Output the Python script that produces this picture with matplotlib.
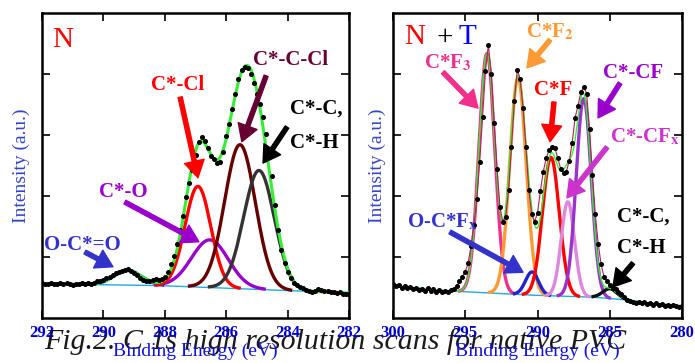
import numpy as np
import matplotlib
matplotlib.use("Agg")
import matplotlib.pyplot as plt

plt.rcParams['font.family'] = ['Liberation Serif', 'DejaVu Serif']
plt.rcParams['mathtext.fontset'] = 'stix'

# ---- panel N (native PVC) : measured points, binding energy (eV) / intensity (a.u.)
n_energy = [292.0, 291.9, 291.8, 291.7, 291.6, 291.5, 291.4, 291.3, 291.2, 291.1,
            291.0, 290.9, 290.8, 290.7, 290.6, 290.5, 290.4, 290.3, 290.2, 290.1,
            290.0, 289.9, 289.8, 289.7, 289.6, 289.5, 289.4, 289.3, 289.2, 289.1,
            289.0, 288.9, 288.8, 288.7, 288.6, 288.5, 288.4, 288.3, 288.2, 288.1,
            288.0, 287.9, 287.8, 287.7, 287.6, 287.5, 287.4, 287.3, 287.2, 287.1,
            287.0, 286.9, 286.8, 286.7, 286.6, 286.5, 286.4, 286.3, 286.2, 286.1,
            286.0, 285.9, 285.8, 285.7, 285.6, 285.5, 285.4, 285.3, 285.2, 285.1,
            285.0, 284.9, 284.8, 284.7, 284.6, 284.5, 284.4, 284.3, 284.2, 284.1,
            284.0, 283.9, 283.8, 283.7, 283.6, 283.5, 283.4, 283.3, 283.2, 283.1,
            283.0, 282.9, 282.8, 282.7, 282.6, 282.5, 282.4, 282.3, 282.2, 282.1, 282.0]
n_counts = [0.58, 0.56, 0.55, 0.57, 0.56, 0.55, 0.57, 0.56, 0.58, 0.55,
            0.54, 0.56, 0.55, 0.57, 0.55, 0.57, 0.56, 0.58, 0.60, 0.61,
            0.63, 0.66, 0.68, 0.70, 0.73, 0.75, 0.77, 0.79, 0.80, 0.77,
            0.74, 0.70, 0.65, 0.62, 0.60, 0.61, 0.63, 0.64, 0.63, 0.64,
            0.68, 0.76, 0.88, 1.02, 1.22, 1.44, 1.68, 1.98, 2.22, 2.42,
            2.68, 2.88, 2.96, 2.90, 2.78, 2.66, 2.60, 2.54, 2.55, 2.72,
            2.98, 3.18, 3.42, 3.68, 3.92, 4.06, 4.12, 4.10, 4.00, 3.86,
            3.68, 3.50, 3.30, 3.02, 2.70, 2.32, 1.86, 1.44, 1.12, 0.90,
            0.76, 0.66, 0.58, 0.54, 0.51, 0.49, 0.46, 0.44, 0.42, 0.45,
            0.47, 0.46, 0.44, 0.45, 0.43, 0.42, 0.41, 0.42, 0.40, 0.39, 0.40]

# fitted components (center, height above background, sigma)
n_names = ["O-C*=O", "C*-O", "C*-Cl", "C*-C-Cl", "C*-C"]
n_center = [289.2, 286.53, 286.92, 285.55, 284.93]
n_height = [0.24, 0.78, 1.65, 2.36, 1.95]
n_sigma = [0.45, 0.6, 0.42, 0.5, 0.5]
n_colors = ["#3333cc", "#9900cc", "#ff0000", "#660000", "#333333"]
n_bg_energy = [292, 288, 286, 284, 282]
n_bg = [0.56, 0.53, 0.49, 0.45, 0.41]

# ---- panel N + T
t_energy = [300.0, 299.8, 299.6, 299.4, 299.2, 299.0, 298.8, 298.6, 298.4, 298.2,
            298.0, 297.8, 297.6, 297.4, 297.2, 297.0, 296.8, 296.6, 296.4, 296.2,
            296.0, 295.8, 295.6, 295.4, 295.2, 295.0, 294.8, 294.6, 294.4, 294.2,
            294.0, 293.8, 293.6, 293.4, 293.2, 293.0, 292.8, 292.6, 292.4, 292.2,
            292.0, 291.8, 291.6, 291.4, 291.2, 291.0, 290.8, 290.6, 290.4, 290.2,
            290.0, 289.8, 289.6, 289.4, 289.2, 289.0, 288.8, 288.6, 288.4, 288.2,
            288.0, 287.8, 287.6, 287.4, 287.2, 287.0, 286.8, 286.6, 286.4, 286.2,
            286.0, 285.8, 285.6, 285.4, 285.2, 285.0, 284.8, 284.6, 284.4, 284.2,
            284.0, 283.8, 283.6, 283.4, 283.2, 283.0, 282.8, 282.6, 282.4, 282.2,
            282.0, 281.8, 281.6, 281.4, 281.2, 281.0, 280.8, 280.6, 280.4, 280.2, 280.0]
t_counts = [0.55, 0.52, 0.54, 0.50, 0.53, 0.49, 0.51, 0.47, 0.50, 0.46,
            0.48, 0.45, 0.49, 0.44, 0.47, 0.43, 0.46, 0.42, 0.45, 0.43,
            0.46, 0.48, 0.52, 0.60, 0.68, 0.76, 0.90, 1.18, 1.52, 1.95,
            2.55, 3.30, 4.05, 4.48, 4.00, 3.20, 2.45, 1.82, 1.58, 1.66,
            2.10, 2.80, 3.55, 4.07, 3.92, 3.45, 2.80, 2.10, 1.70, 1.58,
            1.72, 2.08, 2.40, 2.62, 2.75, 2.80, 2.79, 2.62, 2.45, 2.38,
            2.40, 2.58, 2.87, 3.28, 3.48, 3.70, 3.79, 3.68, 3.10, 2.35,
            1.70, 1.22, 0.88, 0.68, 0.60, 0.54, 0.50, 0.47, 0.43, 0.39,
            0.34, 0.30, 0.28, 0.27, 0.25, 0.27, 0.24, 0.26, 0.23, 0.25,
            0.22, 0.24, 0.21, 0.23, 0.20, 0.22, 0.19, 0.21, 0.20, 0.18, 0.20]

t_names = ["C*F3", "C*F2", "O-C*Fx", "C*F", "C*-CFx", "C*-CF", "C*-C"]
t_center = [293.5, 291.35, 290.38, 289.07, 287.9, 286.8, 284.98]
t_height = [3.92, 3.55, 0.38, 2.27, 1.55, 3.25, 0.16]
t_sigma = [0.55, 0.57, 0.45, 0.58, 0.46, 0.52, 0.5]
t_colors = ["#f0308c", "#ff9933", "#2222cc", "#ff0000", "#dd88dd", "#9933cc", "#111111"]
t_bg_energy = [300, 296, 294, 290, 286, 284, 282, 280]
t_bg = [0.53, 0.44, 0.42, 0.37, 0.34, 0.30, 0.24, 0.20]

W, H = 695, 363
fig = plt.figure(figsize=(W / 100, H / 100), dpi=100)
axL = fig.add_axes([42 / W, (H - 318) / H, 307 / W, 305 / H])
axR = fig.add_axes([393 / W, (H - 318) / H, 289 / W, 305 / H])


def draw_fit(ax, grid, bg_e, bg_v, centers, heights, sigmas, colors, env_lw, env_z):
    bg = np.interp(grid, bg_e[::-1], bg_v[::-1])
    total = bg.copy()
    ax.plot(grid, bg, color="#22aadd", lw=1.0, zorder=2)
    for c, h, s, col in zip(centers, heights, sigmas, colors):
        g = h * np.exp(-(grid - c) ** 2 / (2 * s ** 2))
        total += g
        m = g > 0.01
        ax.plot(grid[m], (bg + g)[m], color=col, lw=2.4, zorder=3)
    ax.plot(grid, total, color="#33ee33", lw=env_lw, zorder=env_z)


gL = np.linspace(282, 292, 800)
draw_fit(axL, gL, n_bg_energy, n_bg, n_center, n_height, n_sigma, n_colors, 2.2, 4)
axL.plot(n_energy, n_counts, "o", ms=2.6, color="black", zorder=5)

gR = np.linspace(280, 300, 1200)
draw_fit(axR, gR, t_bg_energy, t_bg, t_center, t_height, t_sigma, t_colors, 1.0, 4)
axR.plot(t_energy, t_counts, "-", lw=0.8, color="#aa2255", zorder=4)
axR.plot(t_energy, t_counts, "o", ms=2.6, color="black", zorder=5)

for ax, lim, ticks in [(axL, (292, 282), [292, 290, 288, 286, 284, 282]),
                       (axR, (300, 280), [300, 295, 290, 285, 280])]:
    ax.set_xlim(*lim)
    ax.set_ylim(0, 5)
    ax.set_xticks(ticks)
    ax.set_yticks([1, 2, 3, 4])
    ax.set_yticklabels([])
    ax.tick_params(direction="in", length=6, width=1.2, top=True, right=True,
                   labelsize=12, pad=5, labelcolor="#0000cc")
    for lbl in ax.get_xticklabels():
        lbl.set_fontweight("bold")
    for sp in ax.spines.values():
        sp.set_linewidth(1.8)
    ax.text(0.5, -0.108, "Binding Energy (eV)", transform=ax.transAxes, ha="center",
            va="center", fontsize=14, color="#1111dd")

axL.text(-0.066, 0.5, "Intensity (a.u.)", transform=axL.transAxes, rotation=90,
         ha="center", va="center", fontsize=14, color="#3344cc")
axR.text(-0.055, 0.5, "Intensity (a.u.)", transform=axR.transAxes, rotation=90,
         ha="center", va="center", fontsize=14, color="#3344cc")


def arrow(ax, tail, tip, color):
    ax.annotate("", xy=tip, xytext=tail,
                arrowprops=dict(arrowstyle="simple,head_length=1.0,head_width=1.2,tail_width=0.25",
                                color=color, shrinkA=0, shrinkB=0, mutation_scale=12),
                zorder=6)


bold = dict(fontsize=15, fontweight="bold", ha="center", va="center", zorder=7)

# left panel labels
axL.text(0.033, 0.91, "N", transform=axL.transAxes, fontsize=21, color="red", va="center")
axL.text(287.57, 3.82, "C*-Cl", color="red", **bold)
arrow(axL, (287.5, 3.62), (286.92, 2.30), "red")
axL.text(283.9, 4.23, "C*-C-Cl", color="#660033", **bold)
arrow(axL, (284.7, 3.97), (285.49, 2.89), "#660033")
axL.text(283.92, 3.44, "C*-C,", color="black", fontsize=15, fontweight="bold", ha="left", va="center")
axL.text(283.92, 2.87, "C*-H", color="black", fontsize=15, fontweight="bold", ha="left", va="center")
arrow(axL, (284.02, 3.13), (284.8, 2.54), "black")
axL.text(289.36, 2.07, "C*-O", color="#9900cc", **bold)
arrow(axL, (289.3, 1.90), (286.89, 1.25), "#9900cc")
axL.text(290.7, 1.2, "O-C*=O", color="#3333cc", **bold)
arrow(axL, (290.6, 1.08), (289.69, 0.84), "#3333cc")

# right panel labels
axR.text(0.04, 0.92, "N", transform=axR.transAxes, fontsize=21, color="red", va="center")
axR.text(0.152, 0.92, "+", transform=axR.transAxes, fontsize=21, color="black", va="center")
axR.text(0.225, 0.92, "T", transform=axR.transAxes, fontsize=21, color="blue", va="center")
axR.text(296.19, 4.18, r"C*F$_\mathbf{3}$", color="#f0308c", **bold)
arrow(axR, (296.54, 4.03), (294.12, 3.44), "#f0308c")
axR.text(289.13, 4.69, r"C*F$_\mathbf{2}$", color="#ff9933", **bold)
arrow(axR, (289.13, 4.56), (290.73, 4.10), "#ff9933")
axR.text(288.93, 3.74, "C*F", color="red", **bold)
arrow(axR, (288.86, 3.54), (289.13, 2.89), "red")
axR.text(283.39, 4.02, "C*-CF", color="#9900cc", **bold)
arrow(axR, (284.29, 3.85), (285.81, 3.28), "#9900cc")
axR.text(282.56, 2.97, r"C*-CF$_\mathbf{x}$", color="#cc33cc", **bold)
arrow(axR, (285.19, 2.80), (287.96, 1.97), "#cc33cc")
axR.text(296.6, 1.57, r"O-C*F$_\mathbf{x}$", color="#3333cc", **bold)
arrow(axR, (296.06, 1.41), (291.0, 0.75), "#3333cc")
axR.text(284.5, 1.66, "C*-C,", color="black", fontsize=15, fontweight="bold", ha="left", va="center")
axR.text(284.5, 1.15, "C*-H", color="black", fontsize=15, fontweight="bold", ha="left", va="center")
arrow(axR, (283.39, 0.90), (284.78, 0.51), "black")

# caption overlapping the bottom of the figure
fig.text(44 / W, 1 - 342 / H, "Fig.2. C 1s high resolution scans for native PVC",
         fontsize=21.5, style="italic", color="#1a1a1a", ha="left", va="center", zorder=-1)

fig.savefig("out.png", dpi=100)
